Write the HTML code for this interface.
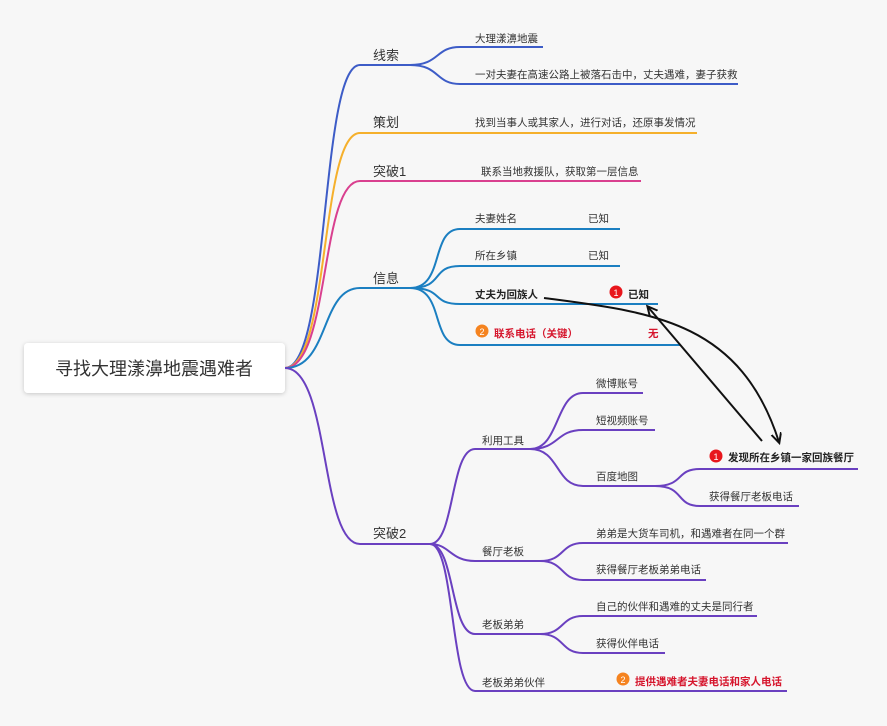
<!DOCTYPE html><html><head><meta charset="utf-8"><style>
body{margin:0;background:#f7f7f7}
svg text{font-family:"Liberation Sans","Noto Sans CJK SC",sans-serif;font-size:10.5px;fill:#333}
.m{font-size:13px}
.b{font-weight:bold;fill:#222}
.r{font-weight:bold;fill:#d6162d}
path{fill:none;stroke-width:2}
</style></head><body>
<svg width="887" height="721" viewBox="0 0 887 721">
<defs><filter id="sh"><feDropShadow dx="0" dy="1" stdDeviation="2" flood-opacity="0.2"/></filter>
<marker id="ar" markerWidth="12" markerHeight="12" refX="9" refY="5" orient="auto" markerUnits="userSpaceOnUse"><path d="M0,0 L10,5 L0,10" stroke="#111" stroke-width="2" fill="none"/></marker></defs>
<rect x="24" y="343" width="261" height="50" rx="4" fill="#fff" filter="url(#sh)"/>
<text x="154" y="375" text-anchor="middle" style="font-size:18px">寻找大理漾濞地震遇难者</text>
<g stroke="#3d5cc7"><path d="M285,368 C330,368 320,65 360,65 L410,65"/>
<path d="M410,65 C440,65 435,47 460,47 L543,47"/><path d="M410,65 C440,65 435,84 460,84 L738,84"/></g>
<text class="m" x="373" y="60">线索</text><text x="475" y="42">大理漾濞地震</text><text x="475" y="78">一对夫妻在高速公路上被落石击中，丈夫遇难，妻子获救</text>
<path stroke="#f5b02c" d="M285,368 C330,368 320,133 360,133 L697,133"/>
<text class="m" x="373" y="127">策划</text><text x="475" y="126">找到当事人或其家人，进行对话，还原事发情况</text>
<path stroke="#d9408f" d="M285,368 C330,368 320,181 360,181 L641,181"/>
<text class="m" x="373" y="176">突破1</text><text x="481" y="175">联系当地救援队，获取第一层信息</text>
<g stroke="#1b7fc1"><path d="M285,368 C330,368 320,288 360,288 L410,288"/>
<path d="M410,288 C445,288 430,229 460,229 L620,229"/><path d="M410,288 C445,288 430,266 460,266 L620,266"/>
<path d="M410,288 C445,288 430,304 460,304 L658,304"/><path d="M410,288 C445,288 430,345 460,345 L680,345"/></g>
<text class="m" x="373" y="283">信息</text>
<text x="475" y="222">夫妻姓名</text><text x="588" y="222">已知</text>
<text x="475" y="259">所在乡镇</text><text x="588" y="259">已知</text>
<text class="b" x="475" y="298">丈夫为回族人</text><circle cx="616" cy="292" r="6.5" fill="#e8161c"/><text x="616" y="296" text-anchor="middle" style="font-size:9px;fill:#fff">1</text><text class="b" x="628" y="298">已知</text>
<circle cx="482" cy="331" r="6.5" fill="#f5831f"/><text x="482" y="335" text-anchor="middle" style="font-size:9px;fill:#fff">2</text><text class="r" x="494" y="337">联系电话（关键）</text><text class="r" x="648" y="337">无</text>
<g stroke="#6a40c0"><path d="M285,368 C330,368 320,544 360,544 L430,544"/>
<path d="M430,544 C455,544 450,449 475,449 L530,449"/>
<path d="M530,449 C560,449 555,393 583,393 L643,393"/><path d="M530,449 C560,449 555,430 583,430 L655,430"/><path d="M530,449 C560,449 555,486 583,486 L655,486"/>
<path d="M655,486 C685,486 675,469 700,469 L858,469"/><path d="M655,486 C685,486 675,506 700,506 L799,506"/>
<path d="M430,544 C450,544 450,561 475,561 L540,561"/>
<path d="M540,561 C565,561 560,543 583,543 L788,543"/><path d="M540,561 C565,561 560,580 583,580 L706,580"/>
<path d="M430,544 C455,544 450,634 475,634 L540,634"/>
<path d="M540,634 C565,634 560,616 583,616 L757,616"/><path d="M540,634 C565,634 560,653 583,653 L665,653"/>
<path d="M430,544 C455,544 450,691 475,691 L787,691"/></g>
<text class="m" x="373" y="538">突破2</text>
<text x="482" y="444">利用工具</text><text x="596" y="387">微博账号</text><text x="596" y="424">短视频账号</text><text x="596" y="480">百度地图</text>
<circle cx="716" cy="456" r="6.5" fill="#e8161c"/><text x="716" y="460" text-anchor="middle" style="font-size:9px;fill:#fff">1</text><text class="b" x="728" y="461">发现所在乡镇一家回族餐厅</text>
<text x="709" y="500">获得餐厅老板电话</text>
<text x="482" y="555">餐厅老板</text><text x="596" y="537">弟弟是大货车司机，和遇难者在同一个群</text><text x="596" y="573">获得餐厅老板弟弟电话</text>
<text x="482" y="628">老板弟弟</text><text x="596" y="610">自己的伙伴和遇难的丈夫是同行者</text><text x="596" y="647">获得伙伴电话</text>
<text x="482" y="686">老板弟弟伙伴</text><circle cx="623" cy="679" r="6.5" fill="#f5831f"/><text x="623" y="683" text-anchor="middle" style="font-size:9px;fill:#fff">2</text><text class="r" x="635" y="685">提供遇难者夫妻电话和家人电话</text>
<path stroke="#111" d="M544,298 C650,312 740,320 779,442" marker-end="url(#ar)"/>
<path stroke="#111" d="M762,441 L648,307" marker-end="url(#ar)"/>
</svg></body></html>
